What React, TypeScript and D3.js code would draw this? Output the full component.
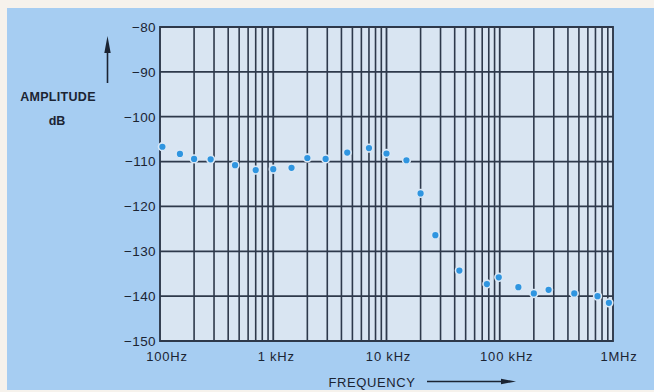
import React from "react";
import * as d3 from "d3";

const freqs = [105, 150, 200, 280, 460, 700, 1000, 1450, 2000, 2900, 4500, 7000, 10000, 15000, 20000, 27000, 44000, 77000, 98000, 146000, 200000, 270000, 455000, 730000, 920000];
const amps = [-106.7, -108.3, -109.4, -109.5, -110.8, -111.9, -111.7, -111.4, -109.2, -109.4, -108.0, -107.0, -108.2, -109.7, -117.1, -126.4, -134.3, -137.3, -135.8, -138.0, -139.4, -138.6, -139.4, -140.0, -141.5];
const yTicks = [-80, -90, -100, -110, -120, -130, -140, -150];
const xLabelVals = [100, 1000, 10000, 100000, 1000000];
const xLabels = ["100Hz", "1 kHz", "10 kHz", "100 kHz", "1MHz"];

export default function App() {
  const W = 654, H = 392;
  const left = 160, right = 613, top = 27, bottom = 341;
  const x = d3.scaleLog().domain([100, 1000000]).range([left, right]);
  const y = d3.scaleLinear().domain([-80, -150]).range([top, bottom]);
  const minor: number[] = [];
  for (let dec = 100; dec < 1000000; dec *= 10) {
    for (let k = 2; k <= 9; k++) minor.push(dec * k);
  }
  const majors = [1000, 10000, 100000];
  const gridColor = "#2e394b";
  const textColor = "#1b2433";
  const font = "'Liberation Sans', Arial, sans-serif";
  const xOffsets = [7, 3, 2, 7, 6];
  return (
    <svg width={W} height={H} style={{ position: "absolute", left: 0, top: 0, background: "#f6f2ec" }}>
      <rect x={7} y={8} width={W - 7} height={H - 10} fill="#a6cdf2" />
      <rect x={left} y={top} width={right - left} height={bottom - top} fill="#d9e5f2" />
      {minor.map((f, i) => (
        <line key={"m" + i} x1={x(f)} x2={x(f)} y1={top} y2={bottom} stroke={gridColor} strokeWidth={1.6} />
      ))}
      {majors.map((f, i) => (
        <line key={"M" + i} x1={x(f)} x2={x(f)} y1={top} y2={bottom} stroke={gridColor} strokeWidth={1.8} />
      ))}
      {yTicks.map((t, i) => (
        <line key={"h" + i} x1={left} x2={right} y1={y(t)} y2={y(t)} stroke={gridColor} strokeWidth={1.8} />
      ))}
      <rect x={left} y={top} width={right - left} height={bottom - top} fill="none" stroke={gridColor} strokeWidth={1.9} />
      {yTicks.map((t, i) => (
        <text key={"yt" + i} x={156} y={y(t)} dy="0.36em" textAnchor="end" fontFamily={font} fontSize={13.5} fill={textColor} letterSpacing={0.4}>
          {"\u2212" + Math.abs(t)}
        </text>
      ))}
      {xLabelVals.map((f, i) => (
        <text key={"xt" + i} x={x(f) + xOffsets[i]} y={356} dy="0.36em" textAnchor="middle" fontFamily={font} fontSize={13} fill={textColor} letterSpacing={0.8}>
          {xLabels[i]}
        </text>
      ))}
      {freqs.map((f, i) => (
        <circle key={"p" + i} cx={x(f)} cy={y(amps[i])} r={3.9} fill="#2f95e0" stroke="#dbe8f5" strokeWidth={1.6} />
      ))}
      <text x={58} y={96} dy="0.36em" textAnchor="middle" fontFamily={font} fontSize={12.5} fontWeight="bold" fill={textColor} letterSpacing={0.3}>AMPLITUDE</text>
      <text x={57} y={120} dy="0.36em" textAnchor="middle" fontFamily={font} fontSize={12.5} fontWeight="bold" fill={textColor}>dB</text>
      <line x1={107.5} x2={107.5} y1={83} y2={48} stroke={textColor} strokeWidth={1.6} />
      <path d="M107.5,36 L104.3,53 L110.7,53 Z" fill={textColor} />
      <text x={372} y={382} dy="0.36em" textAnchor="middle" fontFamily={font} fontSize={13} fill={textColor} letterSpacing={0.6}>FREQUENCY</text>
      <line x1={427} x2={505} y1={381.5} y2={381.5} stroke={textColor} strokeWidth={1.3} />
      <path d="M516,381.5 L501,378.8 L501,384.2 Z" fill={textColor} />
    </svg>
  );
}
